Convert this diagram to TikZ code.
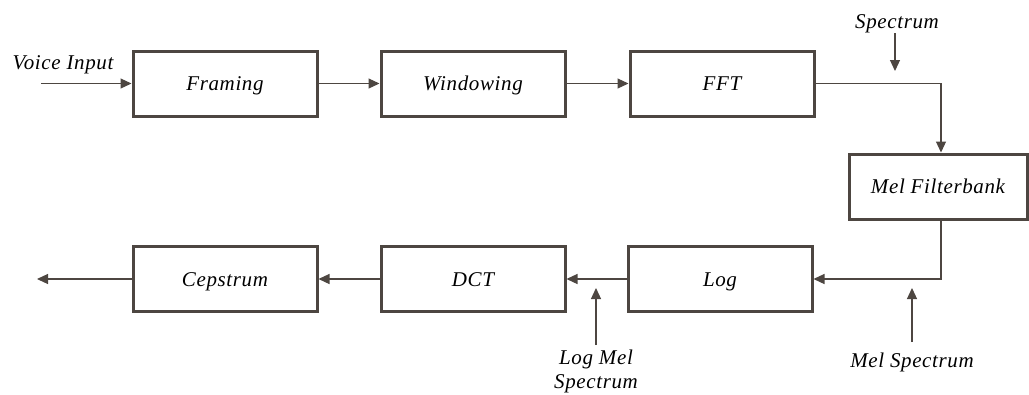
\documentclass[tikz,border=0pt]{standalone}
\usepackage{fontspec}
\setmainfont{Liberation Serif}[LetterSpace=3]
\usetikzlibrary{arrows.meta}
\definecolor{ln}{HTML}{4D4641}
\begin{document}
\begin{tikzpicture}[x=1pt,y=-1pt,
 blk/.style={draw=ln, line width=3pt, minimum width=184pt, minimum height=65pt, inner sep=0pt, text height=14pt, text depth=0pt, font=\fontsize{21}{25}\selectfont\itshape},
 lbl/.style={font=\fontsize{21}{25}\selectfont\itshape, inner sep=0pt, align=center, anchor=base},
 con/.style={draw=ln, line width=1.2pt, -{Triangle[length=11pt,width=10pt]}}]
\useasboundingbox (0,0) rectangle (1029,394);
\node[blk] (framing) at (225,83.5) {Framing};
\node[blk] (windowing) at (473,83.5) {Windowing};
\node[blk] (fft) at (722,83.5) {FFT};
\node[blk, minimum width=178pt] (mel) at (938,186.5) {Mel Filterbank};
\node[blk] (log) at (720,279) {Log};
\node[blk] (dct) at (473,279) {DCT};
\node[blk] (cep) at (225,279) {Cepstrum};
% labels
\node[lbl] (vinl) at (63,69) {Voice Input};
\node[lbl] (spl) at (897,28) {Spectrum};
\node[lbl] (msl) at (912,367) {Mel Spectrum};
\node[lbl] (lmsl1) at (596,364) {Log Mel};
\node[lbl] (lmsl2) at (596,388) {Spectrum};
% coordinates
\coordinate (vin) at (41,83.5);
\coordinate (cout) at (37,279);
\coordinate (sp0) at (895,33);
\coordinate (sp1) at (895,71);
\coordinate (ms0) at (912,342);
\coordinate (ms1) at (912,288);
\coordinate (lm0) at (596,345);
\coordinate (lm1) at (596,288);
% connectors
\draw[con] (vin) -- (framing);
\draw[con] (framing) -- (windowing);
\draw[con] (windowing) -- (fft);
\draw[con] (fft.east) -| ([xshift=3pt]mel.north);
\draw[con] ([xshift=3pt]mel.south) |- (log.east);
\draw[con] (log) -- (dct);
\draw[con] (dct) -- (cep);
\draw[con] (cep.west) -- (cout);
\draw[con] (sp0) -- (sp1);
\draw[con] (ms0) -- (ms1);
\draw[con] (lm0) -- (lm1);
\end{tikzpicture}
\end{document}
